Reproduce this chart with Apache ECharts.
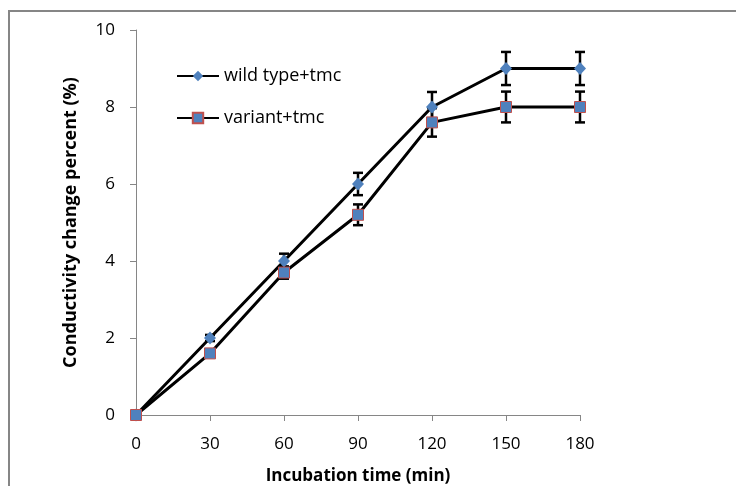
<!DOCTYPE html>
<html><head><meta charset="utf-8">
<script src="https://cdn.jsdelivr.net/npm/echarts@6/dist/echarts.min.js"></script>
<style>html,body{margin:0;padding:0;background:#fff}#c{width:736px;height:486px}</style>
</head><body><div id="c"></div>
<script>
var times = [0, 30, 60, 90, 120, 150, 180];
var wildValues = [0, 2, 4, 6, 8, 9, 9];
var wildErrors = [0, 0.08, 0.19, 0.29, 0.39, 0.43, 0.43];
var variantValues = [0, 1.6, 3.7, 5.2, 7.6, 8, 8];
var variantErrors = [0, 0.06, 0.16, 0.27, 0.37, 0.4, 0.4];
var xTicks = [0, 30, 60, 90, 120, 150, 180];
var yTicks = [0, 2, 4, 6, 8, 10];

var FONT = 'Open Sans';
function pairs(v){ return times.map(function(t,i){return [t, v[i]];}); }
function errData(v,e){ return times.map(function(t,i){return [t, v[i]-e[i], v[i]+e[i]];}); }
function errSeries(v,e){
  return {
    type:'custom', z:1, silent:true,
    renderItem:function(params, api){
      var x=api.value(0), lo=api.value(1), hi=api.value(2);
      var p1=api.coord([x,lo]), p2=api.coord([x,hi]);
      if (Math.abs(p1[1]-p2[1])<0.5) return null;
      var w=5, st={stroke:'#000', lineWidth:2.5};
      return {type:'group', children:[
        {type:'line', shape:{x1:p1[0],y1:p1[1],x2:p2[0],y2:p2[1]}, style:st},
        {type:'line', shape:{x1:p1[0]-w,y1:p1[1],x2:p1[0]+w,y2:p1[1]}, style:st},
        {type:'line', shape:{x1:p2[0]-w,y1:p2[1],x2:p2[0]+w,y2:p2[1]}, style:st}
      ]};
    },
    encode:{x:0,y:[1,2]},
    data:errData(v,e)
  };
}
var chart = echarts.init(document.getElementById('c'), null, {renderer:'canvas'});
chart.setOption({
  animation:false,
  backgroundColor:'#fff',
  graphic:[{type:'rect', shape:{x:9,y:11,width:760,height:500}, style:{fill:'none', stroke:'#868686', lineWidth:2}, silent:true}],
  grid:{left:136, right:156, top:30, bottom:71, containLabel:false, outerBoundsMode:'none'},
  legend:{
    orient:'vertical', left:176, top:67, padding:0, itemGap:24, itemWidth:42, itemHeight:13,
    textStyle:{fontFamily:FONT, fontSize:18, color:'#000'},
    data:['wild type+tmc','variant+tmc']
  },
  xAxis:{
    type:'value', min:0, max:180, interval:30,
    name:'Incubation time (min)', nameLocation:'middle', nameGap:53,
    nameTextStyle:{fontFamily:FONT, fontSize:17, fontWeight:'bold', color:'#000'},
    axisLine:{lineStyle:{color:'#868686', width:1}},
    axisTick:{show:true, length:6, inside:false, lineStyle:{color:'#868686'}},
    axisLabel:{fontFamily:FONT, fontSize:17, color:'#000', margin:21,
      formatter:function(v){return xTicks.indexOf(v)>=0 ? String(v) : '';}},
    splitLine:{show:false}
  },
  yAxis:{
    type:'value', min:0, max:10, interval:2,
    name:'Conductivity change percent (%)', nameLocation:'middle', nameGap:56,
    nameTextStyle:{fontFamily:FONT, fontSize:18, fontWeight:'bold', color:'#000'},
    axisLine:{show:true, lineStyle:{color:'#868686', width:1}},
    axisTick:{show:true, length:6, inside:false, lineStyle:{color:'#868686'}},
    axisLabel:{fontFamily:FONT, fontSize:17, color:'#000', margin:21,
      formatter:function(v){return yTicks.indexOf(v)>=0 ? String(v) : '';}},
    splitLine:{show:false}
  },
  series:[
    {name:'wild type+tmc', type:'line', z:2, data:pairs(wildValues),
     symbol:'diamond', symbolSize:[12,13], showAllSymbol:true,
     lineStyle:{color:'#000', width:3},
     itemStyle:{color:'#4F81BD', borderWidth:0}},
    {name:'variant+tmc', type:'line', z:2, data:pairs(variantValues),
     symbol:'rect', symbolSize:11, showAllSymbol:true,
     lineStyle:{color:'#000', width:3},
     itemStyle:{color:'#4F81BD', borderColor:'#C0504D', borderWidth:1}},
    errSeries(wildValues, wildErrors),
    errSeries(variantValues, variantErrors)
  ]
});
</script></body></html>
